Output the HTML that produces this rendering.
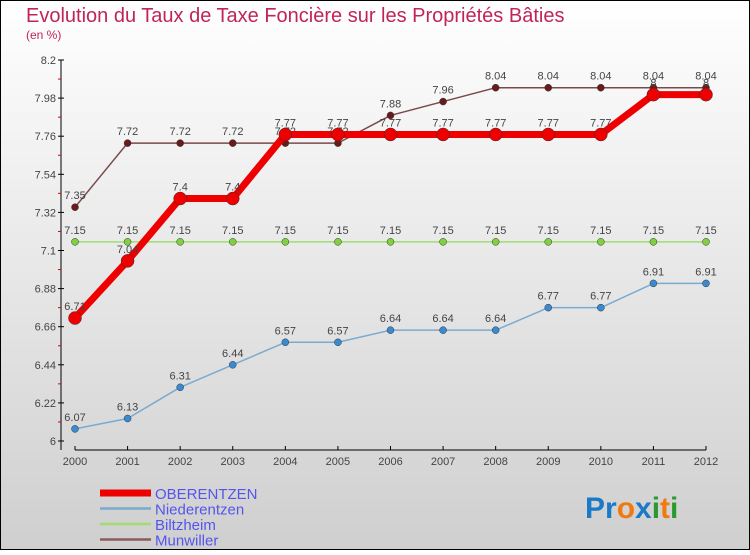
<!DOCTYPE html>
<html><head><meta charset="utf-8"><style>
body{margin:0;width:750px;height:550px;overflow:hidden;font-family:"Liberation Sans",sans-serif}
</style></head><body>
<svg id="c" width="750" height="550" xmlns="http://www.w3.org/2000/svg">
<defs><linearGradient id="bg" x1="0" y1="0" x2="0" y2="1"><stop offset="0" stop-color="#ffffff"/><stop offset="1" stop-color="#cfcfcf"/></linearGradient></defs>
<rect x="0.5" y="0.5" width="749" height="549" fill="url(#bg)" stroke="#000"/>
<text x="26" y="22" font-size="20" fill="#c0245c">Evolution du Taux de Taxe Foncière sur les Propriétés Bâties</text>
<text x="26" y="39" font-size="12" fill="#c0245c">(en %)</text>
<g id="axes"></g><g id="series"></g><g id="legend"></g>
<text x="585" y="518" font-size="30" font-weight="bold"><tspan fill="#1a7ac8">Pr</tspan><tspan fill="#f07a10">o</tspan><tspan fill="#1a7ac8">x</tspan><tspan fill="#2a9a30">i</tspan><tspan fill="#f07a10">t</tspan><tspan fill="#2a9a30">i</tspan></text>
</svg>
<script>
const years=["2000","2001","2002","2003","2004","2005","2006","2007","2008","2009","2010","2011","2012"];
const yTicks=[6,6.22,6.44,6.66,6.88,7.1,7.32,7.54,7.76,7.98,8.2];
const yTickLabels=["6","6.22","6.44","6.66","6.88","7.1","7.32","7.54","7.76","7.98","8.2"];
const oberentzen=[6.71,7.04,7.4,7.4,7.77,7.77,7.77,7.77,7.77,7.77,7.77,8,8];
const niederentzen=[6.07,6.13,6.31,6.44,6.57,6.57,6.64,6.64,6.64,6.77,6.77,6.91,6.91];
const biltzheim=[7.15,7.15,7.15,7.15,7.15,7.15,7.15,7.15,7.15,7.15,7.15,7.15,7.15];
const munwiller=[7.35,7.72,7.72,7.72,7.72,7.72,7.88,7.96,8.04,8.04,8.04,8.04,8.04];
const NS="http://www.w3.org/2000/svg";
const X=i=>75+i*(706-75)/(years.length-1);
const Y=v=>441-(v-6)*(441-60)/(8.2-6);
function mk(t,a,p){const e=document.createElementNS(NS,t);for(const k in a)e.setAttribute(k,a[k]);p.appendChild(e);return e;}
const ax=document.getElementById('axes');
let l=mk('line',{x1:61,y1:60,x2:61,y2:450,stroke:'#000'},ax);


l=mk('line',{x1:75,y1:450,x2:706,y2:450,stroke:'#000'},ax);


yTicks.forEach((v,i)=>{
  mk('line',{x1:58,y1:Y(v),x2:64,y2:Y(v),stroke:'#000'},ax);
  if(i<yTicks.length-1){const m=(v+yTicks[i+1])/2;mk('line',{x1:58,y1:Y(m),x2:61,y2:Y(m),stroke:'#d00'},ax);}
  const t=mk('text',{x:56,y:Y(v)+4,'font-size':11,fill:'#444','text-anchor':'end'},ax);t.textContent=yTickLabels[i];
  
  
});
years.forEach((y,i)=>{
  mk('line',{x1:X(i),y1:446,x2:X(i),y2:450,stroke:'#000'},ax);
  const t=mk('text',{x:X(i),y:465,'font-size':11,fill:'#444','text-anchor':'middle'},ax);t.textContent=y;
  
  
});
const sg=document.getElementById('series');
function series(d,name,color,w,r,pc){
  const g=mk('g',{},sg);
  
  
  mk('polyline',{points:d.map((v,i)=>X(i)+','+Y(v)).join(' '),fill:'none',stroke:color,'stroke-width':w,'stroke-linejoin':'round'},g);
  d.forEach((v,i)=>{
    const c=mk('circle',{cx:X(i),cy:Y(v),r:r,fill:pc,stroke:'#333','stroke-width':0.5},g);
    
    
    const t=mk('text',{x:X(i),y:Y(v)-8,'font-size':11,fill:'#444','text-anchor':'middle'},g);t.textContent=String(v);
    
    
  });
}
series(niederentzen,'niederentzen','#7aaad0',1.5,3.5,'#3a8ad0');
series(biltzheim,'biltzheim','#a0dc70',1.5,3.5,'#80d040');
series(munwiller,'munwiller','#7a4a4a',1.5,3.5,'#6a1a1a');
series(oberentzen,'oberentzen','#ee0000',7,6.5,'#ee0000');
const lg=document.getElementById('legend');
const names=["OBERENTZEN","Niederentzen","Biltzheim","Munwiller"],cols=['#ee0000','#7aaad0','#a0dc70','#8a5a5a'],ws=[7,2.5,2.5,2.5];
names.forEach((n,i)=>{
  const y=493+i*15.5;
  const ln=mk('line',{x1:100,y1:y,x2:151,y2:y,stroke:cols[i],'stroke-width':ws[i]},lg);
  
  
  const t=mk('text',{x:155,y:y+6,'font-size':15,fill:'#5555ee'},lg);t.textContent=n;
  
  
});
</script>
</body></html>
